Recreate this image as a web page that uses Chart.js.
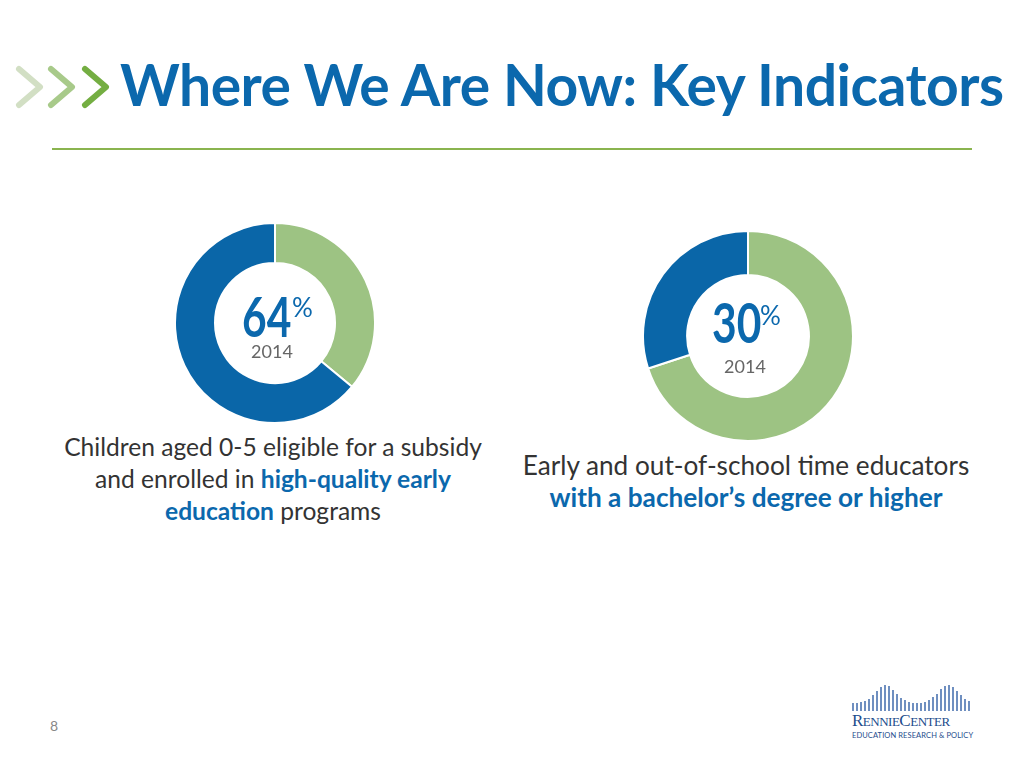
<!DOCTYPE html>
<html>
<head>
<meta charset="utf-8">
<script src="https://cdn.jsdelivr.net/npm/chart.js@4.4.1/dist/chart.umd.min.js"></script>
<style>
  html, body { margin: 0; padding: 0; background: #fff; }
  body { width: 1024px; height: 768px; position: relative; overflow: hidden; font-family: Lato, "Open Sans", sans-serif; }
  .abs { position: absolute; }
  #title { left: 120px; top: 50px; font-size: 57px; font-weight: 700; color: #0b68ad; white-space: nowrap; letter-spacing: -0.5px; }
  #rule { left: 52px; top: 148px; width: 920px; height: 2px; background: #8ab44f; }
  .caption { color: #333; text-align: center; white-space: nowrap; }
  .caption b { color: #0b68ad; font-weight: 700; }
  .digits { font-size: 56px; line-height: 44px; font-weight: 700; color: #0b68ad; transform: scaleX(0.76); transform-origin: left top; white-space: nowrap; }
  .pct { font-size: 26px; line-height: 26px; color: #0b68ad; }
  .year { font-size: 18px; line-height: 18px; color: #666; transform: translateX(-50%); }
  #page { left: 50px; top: 717px; font-size: 14px; color: #888; }
  #logo { left: 852px; top: 684px; width: 122px; }
  #bars { height: 27px; position: relative; }
  #bars span { position: absolute; bottom: 0; width: 2px; background: #6f8fc0; }
  #logo .name { font-family: "Liberation Serif", serif; color: #1d4c8c; font-size: 17px; letter-spacing: -0.5px; line-height: 18px; margin-top: 1px; }
  #logo .name small { font-size: 13px; }
  #logo .tag { font-size: 7.5px; color: #1d4c8c; letter-spacing: 0.1px; white-space: nowrap; }
</style>
</head>
<body>
<svg class="abs" style="left:0px;top:60px" width="120" height="56">
  <polyline points="19,9 40,27 19,45" fill="none" stroke="#d2dfc4" stroke-width="6" stroke-linecap="round" stroke-linejoin="round"/>
  <polyline points="51,9 72,27 51,45" fill="none" stroke="#a8ca8a" stroke-width="6" stroke-linecap="round" stroke-linejoin="round"/>
  <polyline points="85,9 106,27 85,45" fill="none" stroke="#74ae42" stroke-width="6" stroke-linecap="round" stroke-linejoin="round"/>
</svg>
<div id="title" class="abs">Where We Are Now: Key Indicators</div>
<div id="rule" class="abs"></div>

<canvas id="donutA" class="abs" width="202" height="202" style="left:174px;top:222px"></canvas>
<canvas id="donutB" class="abs" width="212" height="212" style="left:642px;top:230px"></canvas>

<div class="abs digits" style="left:242px;top:294px">64</div>
<div class="abs pct" style="left:292px;top:294px">%</div>
<div class="abs year" style="left:272px;top:342px">2014</div>

<div class="abs digits" style="left:712px;top:300px">30</div>
<div class="abs pct" style="left:760px;top:302px">%</div>
<div class="abs year" style="left:745px;top:357px">2014</div>

<div class="abs caption" style="left:273px;top:431px;transform:translateX(-50%);font-size:24.6px;line-height:32px">
  Children aged 0-5 eligible for a subsidy<br>
  and enrolled in <b>high-quality early</b><br>
  <b>education</b> programs
</div>
<div class="abs caption" style="left:746px;top:449px;transform:translateX(-50%);font-size:26.2px;line-height:32px">
  Early and out-of-school time educators<br>
  <b>with a bachelor’s degree or higher</b>
</div>

<div id="page" class="abs">8</div>
<div id="logo" class="abs">
  <div id="bars"></div>
  <div class="name">R<small>ENNIE</small>C<small>ENTER</small></div>
  <div class="tag">EDUCATION RESEARCH &amp; POLICY</div>
</div>

<script>
const segmentLabels = ['Other', 'Indicator'];
const childrenShares = [36, 64];
const educatorShares = [70, 30];
const ringColors = ['#9dc383', '#0a66a8'];

function drawRing(id, shares, cutout) {
    new Chart(document.getElementById(id), {
        type: 'doughnut',
        data: {
            labels: segmentLabels,
            datasets: [{
                data: shares,
                backgroundColor: ringColors,
                borderColor: '#ffffff',
                borderWidth: 2
            }]
        },
        options: {
            responsive: false,
            animation: false,
            cutout: cutout,
            plugins: { legend: { display: false }, tooltip: { enabled: false } }
        }
    });
}

drawRing('donutA', childrenShares, '60%');
drawRing('donutB', educatorShares, '58%');

// decorative bridge bars of the logo
const bars = document.getElementById('bars');
for (let i = 0; i < 30; i++) {
    const t = i / 29;
    const h = 8 + 18 * Math.max(Math.exp(-Math.pow((t - 0.28) / 0.12, 2)), Math.exp(-Math.pow((t - 0.82) / 0.12, 2)));
    const s = document.createElement('span');
    s.style.left = (i * 4) + 'px';
    s.style.height = h + 'px';
    bars.appendChild(s);
}
</script>
</body>
</html>
